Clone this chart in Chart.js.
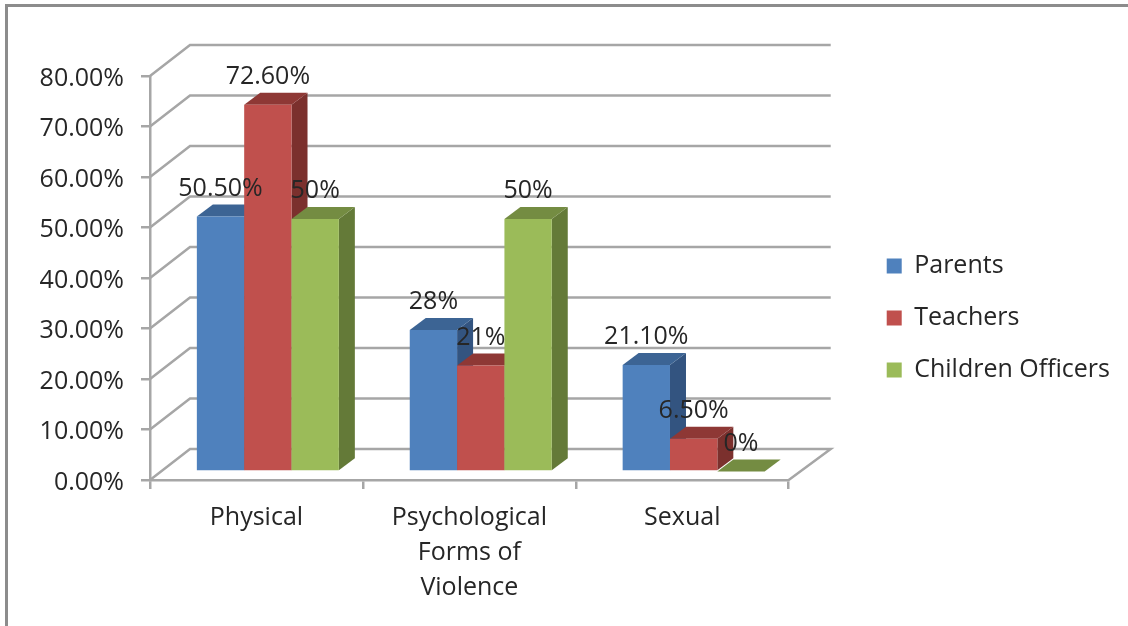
<!DOCTYPE html>
<html>
<head>
<meta charset="utf-8">
<title>Forms of Violence</title>
<script src="https://cdn.jsdelivr.net/npm/chart.js@4"></script>
<style>
    html, body { margin: 0; background: #fff; overflow: hidden; }
    #frame {
        position: absolute; left: 5px; top: 4px; right: 0; bottom: 0;
        border-left: 3px solid #8c8c8c; border-top: 3px solid #8c8c8c;
    }
    canvas { position: absolute; left: 0; top: 0; }
</style>
</head>
<body>
<div id="frame"></div>
<canvas id="grafik" width="1128" height="626"></canvas>
<script>
const categories = ["Physical", ["Psychological", "Forms of", "Violence"], "Sexual"];
const seriesNames = ["Parents", "Teachers", "Children Officers"];
const parents = [50.5, 28, 21.1];
const teachers = [72.6, 21, 6.5];
const childrenOfficers = [50, 50, 0];
const parentsLabels = ["50.50%", "28%", "21.10%"];
const teachersLabels = ["72.60%", "21%", "6.50%"];
const officersLabels = ["50%", "50%", "0%"];

const fontName = "'Open Sans'";
const fontSize = 25;
const textColor = "#262626";
const gridColor = "#a6a6a6";

// front, top and side shades of each series
const frontColors = ["#4f81bd", "#c0504d", "#9bbb59"];
const topColors = ["#3c6494", "#8e3835", "#748c42"];
const sideColors = ["#335480", "#7b302d", "#647a38"];
const valueLabels = [parentsLabels, teachersLabels, officersLabels];

// offsets of the fake 3D box
const wallShift = { x: 40, y: 31 };
const barShift = { x: 11.4, y: 8.5 };
const barDepth = { x: 16, y: 12 };

function polygon(ctx, pts, color) {
    ctx.fillStyle = color;
    ctx.beginPath();
    pts.forEach((p, i) => i ? ctx.lineTo(p[0], p[1]) : ctx.moveTo(p[0], p[1]));
    ctx.closePath();
    ctx.fill();
}

function drawWalls(chart) {
    const ctx = chart.ctx;
    const { x, y } = chart.scales;
    const left = x.left, right = x.right;
    ctx.save();
    ctx.strokeStyle = gridColor;
    ctx.lineWidth = 2.5;
    y.ticks.forEach(t => {
        const py = y.getPixelForValue(t.value);
        ctx.beginPath();
        ctx.moveTo(left, py);
        ctx.lineTo(left + wallShift.x, py - wallShift.y);
        ctx.lineTo(right + wallShift.x + 2, py - wallShift.y);
        if (t.value === 0) ctx.lineTo(right, py);
        ctx.stroke();
    });
    ctx.restore();
}

// side and top of each bar go down first so the next series can cover them
const box3d = {
    id: "box3d",
    afterLayout(chart) {
        // Open Sans sits high on its middle baseline, nudge the value axis text down
        const y = chart.scales.y;
        const drawLabels = y.drawLabels.bind(y);
        y.drawLabels = area => {
            chart.ctx.save();
            chart.ctx.translate(0, 2.5);
            drawLabels(area);
            chart.ctx.restore();
        };
    },
    beforeDatasetsDraw(chart) {
        const ctx = chart.ctx;
        drawWalls(chart);
        ctx.save();
        ctx.translate(barShift.x, -barShift.y);
        chart.data.datasets.forEach((ds, i) => {
            const meta = chart.getDatasetMeta(i);
            meta.data.forEach(bar => {
                const l = bar.x - bar.width / 2, r = bar.x + bar.width / 2;
                const dx = barDepth.x, dy = barDepth.y;
                polygon(ctx, [[r, bar.y], [r + dx, bar.y - dy], [r + dx, bar.base - dy], [r, bar.base]], sideColors[i]);
                polygon(ctx, [[l, bar.y], [l + dx, bar.y - dy], [r + dx, bar.y - dy], [r, bar.y]], topColors[i]);
            });
            meta.controller.draw();
        });
        ctx.restore();
        return false;
    },
    afterDraw(chart) {
        const ctx = chart.ctx;
        ctx.save();
        ctx.font = fontSize + "px " + fontName;
        ctx.fillStyle = textColor;
        ctx.textAlign = "center";
        ctx.textBaseline = "middle";
        chart.data.datasets.forEach((ds, i) => {
            chart.getDatasetMeta(i).data.forEach((bar, j) => {
                ctx.fillText(valueLabels[i][j], bar.x + barShift.x, bar.y - barShift.y - 28);
            });
        });
        ctx.restore();
    }
};

// empty axes, only there to keep room around the plot
function spacer(axis, position, size) {
    return {
        type: "linear", axis, position,
        grid: { display: false }, border: { display: false }, ticks: { display: false },
        afterFit(s) { if (axis === "x") s.height = size; else s.width = size; }
    };
}

new Chart(document.getElementById("grafik").getContext("2d"), {
    type: "bar",
    plugins: [box3d],
    data: {
        labels: categories,
        datasets: [parents, teachers, childrenOfficers].map((values, i) => ({
            label: seriesNames[i],
            data: values,
            backgroundColor: frontColors[i],
            borderWidth: 0,
            barPercentage: 1,
            categoryPercentage: 0.667,
            xAxisID: "x",
            yAxisID: "y"
        }))
    },
    options: {
        responsive: false,
        animation: false,
        layout: { padding: { top: 10, right: 8, bottom: 0, left: 0 } },
        scales: {
            x: {
                type: "category",
                grid: { display: true, offset: true, drawOnChartArea: false, color: gridColor, lineWidth: 2.5, tickLength: 9 },
                border: { color: gridColor, width: 2.5 },
                ticks: { color: textColor, font: { family: fontName, size: fontSize, lineHeight: 1.4 }, padding: 11, maxRotation: 0, autoSkip: false },
                afterFit(s) { s.height = 146; }
            },
            y: {
                min: 0,
                max: 80,
                grid: { drawOnChartArea: false, color: gridColor, lineWidth: 2.5, tickLength: 9 },
                border: { color: gridColor, width: 2.5 },
                ticks: {
                    stepSize: 10,
                    color: textColor,
                    font: { family: fontName, size: fontSize },
                    padding: 17,
                    callback: v => v.toFixed(2) + "%"
                },
                afterFit(s) { s.width = 150; }
            },
            xTop: spacer("x", "top", 66),
            yGap: spacer("y", "right", 71)
        },
        plugins: {
            tooltip: { enabled: false },
            legend: {
                position: "right",
                onClick: null,
                maxWidth: 300,
                labels: {
                    color: textColor,
                    font: { family: fontName, size: fontSize },
                    boxWidth: 15,
                    boxHeight: 15,
                    padding: 27
                }
            }
        }
    }
});
</script>
</body>
</html>
